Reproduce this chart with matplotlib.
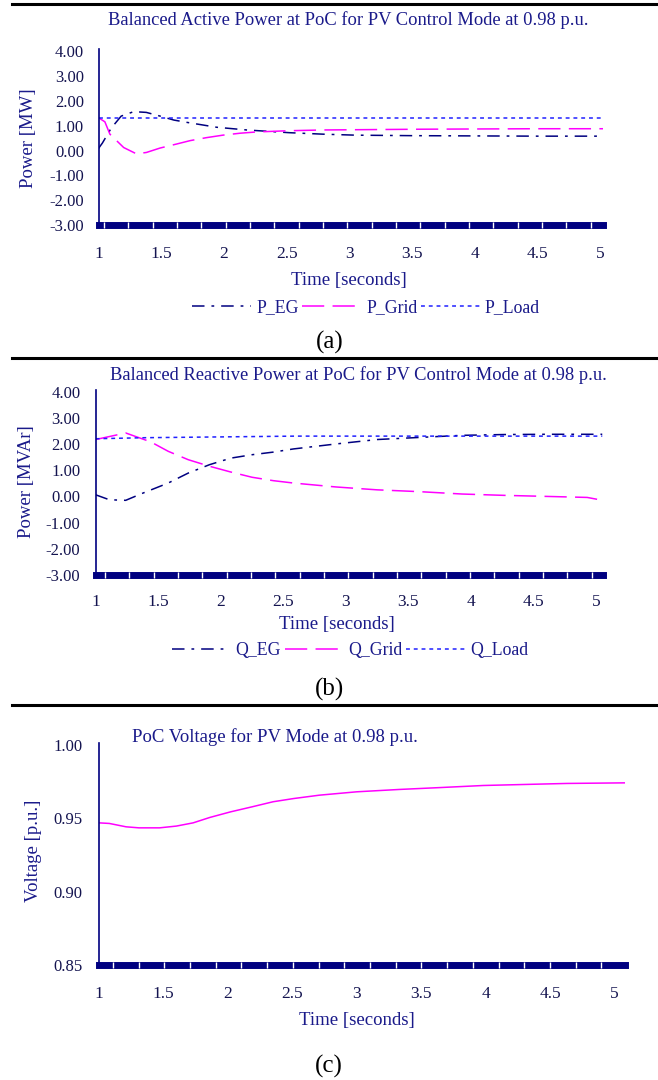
import numpy as np
import matplotlib
matplotlib.use("Agg")
import matplotlib.pyplot as plt
from matplotlib.lines import Line2D

plt.rcParams["font.family"] = ["Liberation Serif", "DejaVu Serif"]
plt.rcParams["axes.unicode_minus"] = False
plt.rcParams["lines.scale_dashes"] = False

NAVY = "#000080"
MAGENTA = "#FF00FF"
BLUE = "#2020FF"
TXT = "#1a1a8a"
TICK = "#141450"

# ---------- data ----------
# (a) active power [MW]
t_peg = [1.00, 1.01, 1.03, 1.10, 1.18, 1.28, 1.38, 1.49, 1.60, 1.70, 1.94, 2.18, 2.52, 2.79, 3.05, 3.50, 4.00, 4.50, 5.02]
p_eg = [0.08, 0.16, 0.30, 0.90, 1.39, 1.57, 1.54, 1.39, 1.23, 1.14, 0.94, 0.83, 0.72, 0.66, 0.62, 0.60, 0.59, 0.58, 0.58]
t_pgrid = [1.00, 1.05, 1.09, 1.20, 1.30, 1.38, 1.49, 1.62, 1.73, 1.86, 1.99, 2.13, 2.26, 2.52, 2.79, 3.05, 3.56, 4.00, 4.50, 5.02]
p_grid = [1.32, 1.16, 0.66, 0.12, -0.13, -0.08, 0.10, 0.26, 0.40, 0.52, 0.62, 0.70, 0.75, 0.80, 0.83, 0.84, 0.86, 0.87, 0.88, 0.88]
t_pload = [1.00, 5.02]
p_load = [1.32, 1.32]

# (b) reactive power [MVAr]
t_qeg = [1.00, 1.11, 1.24, 1.38, 1.58, 1.74, 1.91, 2.08, 2.25, 2.42, 2.58, 2.92, 3.25, 3.59, 3.93, 4.26, 4.60, 5.05]
q_eg = [0.06, -0.13, -0.15, 0.13, 0.51, 0.89, 1.21, 1.46, 1.59, 1.69, 1.81, 2.00, 2.17, 2.25, 2.33, 2.36, 2.37, 2.37]
t_qgrid = [1.00, 1.24, 1.44, 1.58, 1.74, 1.91, 2.08, 2.25, 2.42, 2.58, 2.92, 3.25, 3.59, 3.93, 4.26, 4.60, 4.93, 5.03]
q_grid = [2.17, 2.42, 2.08, 1.72, 1.40, 1.15, 0.93, 0.73, 0.60, 0.51, 0.36, 0.25, 0.18, 0.09, 0.04, 0.00, -0.04, -0.13]
t_qload = [1.00, 1.40, 2.60, 5.05]
q_load = [2.20, 2.24, 2.30, 2.30]

# (c) PoC voltage [p.u.]
t_v = [1.00, 1.08, 1.21, 1.31, 1.47, 1.60, 1.73, 1.86, 2.02, 2.19, 2.35, 2.51, 2.71, 3.00, 3.33, 3.65, 3.98, 4.30, 4.63, 5.08]
v_poc = [0.947, 0.9466, 0.9443, 0.9436, 0.9436, 0.9448, 0.9470, 0.9507, 0.9545, 0.9580, 0.9614, 0.9636, 0.9659, 0.9682, 0.9698, 0.9711, 0.9725, 0.9732, 0.9739, 0.9743]

x_labels = ["1", "1.5", "2", "2.5", "3", "3.5", "4", "4.5", "5"]
x_ticks = [1, 1.5, 2, 2.5, 3, 3.5, 4, 4.5, 5]
power_ticks = [-3, -2, -1, 0, 1, 2, 3, 4]
volt_ticks = [0.85, 0.90, 0.95, 1.00]

W, H = 658, 1080
fig = plt.figure(figsize=(W / 100, H / 100), dpi=100)


def px_axes(x0, y0, x1, y1):
    return fig.add_axes([x0 / W, 1 - y1 / H, (x1 - x0) / W, (y1 - y0) / H])


def style(ax, band_ticks, ypad, xpad):
    for s in ("top", "right"):
        ax.spines[s].set_visible(False)
    ax.spines["left"].set_color(NAVY)
    ax.spines["left"].set_linewidth(1.2)
    ax.spines["bottom"].set_color(NAVY)
    ax.spines["bottom"].set_linewidth(5)
    ax.spines["bottom"].set_zorder(1)
    ax.set_xticks(x_ticks)
    ax.set_xticklabels(x_labels)
    ax.set_xticks(band_ticks, minor=True)
    ax.tick_params(axis="x", which="major", length=0, pad=xpad,
                   labelsize=12.5, labelcolor=TICK)
    ax.tick_params(axis="x", which="minor", direction="inout", length=5,
                   width=1.0, color="white")
    ax.tick_params(axis="y", length=0, pad=ypad, labelsize=12, labelcolor=TICK)


def sep(y):
    fig.add_artist(Line2D([0.018, 1], [1 - y / H, 1 - y / H], color="black",
                          lw=2.2, transform=fig.transFigure))


LEG = dict(loc="center", ncol=3, frameon=False, fontsize=12.8, labelcolor=TXT,
           handlelength=3.3, handletextpad=0.3, columnspacing=0.2)

# ---------- (a) ----------
ax = px_axes(98.6, 49, 603, 224.8)
l1, = ax.plot(t_peg, p_eg, color=NAVY, lw=1.1, dashes=(9, 5, 2, 5))
l2, = ax.plot(t_pgrid, p_grid, color=MAGENTA, lw=1.1, dashes=(16, 6))
l3, = ax.plot(t_pload, p_load, color=BLUE, lw=1.1, dashes=(2.8, 2.8))
ax.set_xlim(1, 5.02)
ax.set_ylim(-3, 4.1)
ax.set_yticks(power_ticks)
ax.set_yticklabels([f"{v:.2f}" for v in power_ticks])
style(ax, np.arange(1.043, 5.0, 0.194), 10.5, 15)
fig.text(348 / W, 1 - 20 / H, "Balanced Active Power at PoC for PV Control Mode at 0.98 p.u.",
         ha="center", va="center", fontsize=13.3, color=TXT)
fig.text(29 / W, 1 - 138 / H, "Power [MW]", rotation=90, ha="center", va="center",
         fontsize=13.5, color=TXT)
fig.text(349 / W, 1 - 280 / H, "Time [seconds]", ha="center", va="center",
         fontsize=13.5, color=TXT)
fig.legend([l1, l2, l3], ["P_EG", "P_Grid", "P_Load"],
           bbox_to_anchor=(366 / W, 1 - 308 / H), **LEG)
fig.text(330 / W, 1 - 342 / H, "(a)", ha="center", va="center", fontsize=18)
sep(3.5)
sep(357.5)

# ---------- (b) ----------
ax = px_axes(95.7, 390, 603, 575)
l1, = ax.plot(t_qeg, q_eg, color=NAVY, lw=1.1, dashes=(9, 5, 2, 5))
l2, = ax.plot(t_qgrid, q_grid, color=MAGENTA, lw=1.1, dashes=(16, 6))
l3, = ax.plot(t_qload, q_load, color=BLUE, lw=1.1, dashes=(2.8, 2.8))
ax.set_xlim(1, 5.056)
ax.set_ylim(-3, 4.06)
ax.set_yticks(power_ticks)
ax.set_yticklabels([f"{v:.2f}" for v in power_ticks])
style(ax, np.arange(1.074, 5.04, 0.1946), 11, 14)
fig.text(358 / W, 1 - 375 / H, "Balanced Reactive Power at PoC for PV Control Mode at 0.98 p.u.",
         ha="center", va="center", fontsize=13.3, color=TXT)
fig.text(26 / W, 1 - 482 / H, "Power [MVAr]", rotation=90, ha="center", va="center",
         fontsize=13.5, color=TXT)
fig.text(337 / W, 1 - 625 / H, "Time [seconds]", ha="center", va="center",
         fontsize=13.5, color=TXT)
fig.legend([l1, l2, l3], ["Q_EG", "Q_Grid", "Q_Load"],
           bbox_to_anchor=(350 / W, 1 - 651 / H), **LEG)
fig.text(329 / W, 1 - 689 / H, "(b)", ha="center", va="center", fontsize=18)
sep(704.5)

# ---------- (c) ----------
ax = px_axes(99, 743, 625, 965)
ax.plot(t_v, v_poc, color=MAGENTA, lw=1.1)
ax.set_xlim(1, 5.08)
ax.set_ylim(0.85, 1.0015)
ax.set_yticks(volt_ticks)
ax.set_yticklabels([f"{v:.2f}" for v in volt_ticks])
style(ax, np.arange(1.107, 5.05, 0.1995), 12, 15)
fig.text(132 / W, 1 - 737 / H, "PoC Voltage for PV Mode at 0.98 p.u.",
         ha="left", va="center", fontsize=13.5, color=TXT)
fig.text(33 / W, 1 - 851 / H, "Voltage [p.u.]", rotation=90, ha="center", va="center",
         fontsize=13.5, color=TXT)
fig.text(357 / W, 1 - 1020 / H, "Time [seconds]", ha="center", va="center",
         fontsize=13.5, color=TXT)
fig.text(329 / W, 1 - 1066 / H, "(c)", ha="center", va="center", fontsize=18)

fig.savefig("out.png", dpi=100)
